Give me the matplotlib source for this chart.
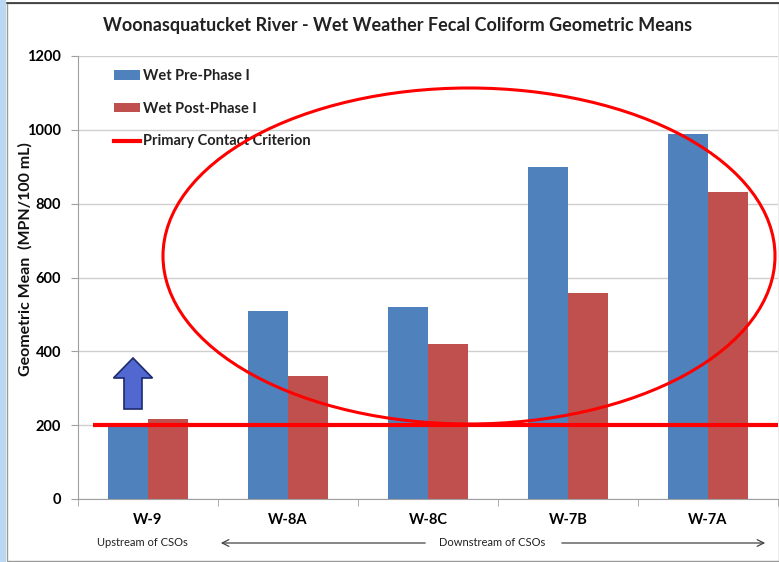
import matplotlib
matplotlib.use("Agg")
import matplotlib.pyplot as plt
import numpy as np
from matplotlib.patches import Rectangle, Ellipse, FancyArrow, Patch, FancyArrowPatch
from matplotlib.lines import Line2D

sites = ["W-9", "W-8A", "W-8C", "W-7B", "W-7A"]
pre_phase = [205, 510, 520, 898, 990]
post_phase = [218, 333, 420, 558, 831]
criterion = 200
yticks = [0, 200, 400, 600, 800, 1000, 1200]

plt.rcParams['font.family'] = ['Lato', 'DejaVu Sans']

W, H = 779, 562
fig = plt.figure(figsize=(W / 100, H / 100), dpi=100)

def fx(px):
    return px / W

def fy(py):
    return 1 - py / H

# frame decorations
fig.patches.append(Rectangle((0, 0), fx(6), 1, transform=fig.transFigure,
                             facecolor="#BBD8F2", edgecolor="none", zorder=-3))
fig.patches.append(Rectangle((fx(7), fy(561)), fx(779) - fx(7), fy(3) - fy(561),
                             transform=fig.transFigure, facecolor="white",
                             edgecolor="#9A9A9A", lw=1.0, zorder=-2))
fig.lines.append(Line2D([fx(7), 1], [fy(2.5), fy(2.5)], transform=fig.transFigure,
                        color="#333333", lw=1.2, zorder=-1))

ax = fig.add_axes([fx(78), fy(499), fx(778) - fx(78), fy(56) - fy(499)])
ax.set_facecolor("none")

x = np.arange(len(sites))
bw = 0.286
ax.bar(x - bw / 2, pre_phase, bw, color="#4F81BD", zorder=2, label="Wet Pre-Phase I")
ax.bar(x + bw / 2, post_phase, bw, color="#C0504D", zorder=2, label="Wet Post-Phase I")
ax.plot([-0.393, 4.5], [criterion, criterion], color="#FF0000", lw=3.0, zorder=4,
        solid_capstyle="butt", clip_on=False)

ax.set_xlim(-0.5, 4.5)
ax.set_ylim(0, 1200)
ax.set_yticks(yticks)
ax.set_yticklabels([str(v) for v in yticks], fontsize=10.5, fontweight="bold")
ax.yaxis.grid(True, color="#CFCFCF", lw=1.0, zorder=0)
ax.set_axisbelow(True)
ax.tick_params(axis="y", length=5, color="#A0A0A0", pad=7)

ax.set_xticks(x)
ax.set_xticklabels(sites, fontsize=10.5, fontweight="bold")
ax.set_xticks(np.arange(-0.5, 5.0, 1.0), minor=True)
ax.tick_params(axis="x", which="major", length=0, pad=10)
ax.tick_params(axis="x", which="minor", length=5, color="#A0A0A0")

for s in ["top", "right"]:
    ax.spines[s].set_visible(False)
for s in ["left", "bottom"]:
    ax.spines[s].set_color("#A0A0A0")

# y label placed like the reference
fig.text(fx(25), fy(259), "Geometric Mean  (MPN/100 mL)", rotation=90, ha="center",
         va="center", fontsize=11.5, fontweight="bold", color="#111111")

# title
fig.text(fx(398), fy(25), "Woonasquatucket River - Wet Weather Fecal Coliform Geometric Means",
         ha="center", va="center", fontsize=13, fontweight="bold", color="#222222")

# legend
handles = [Patch(facecolor="#4F81BD", edgecolor="none"),
           Patch(facecolor="#C0504D", edgecolor="none"),
           Line2D([0], [0], color="#FF0000", lw=3)]
labels = ["Wet Pre-Phase I", "Wet Post-Phase I", "Primary Contact Criterion"]
leg = ax.legend(handles, labels, loc="upper left", bbox_to_anchor=(0.033, 1.0),
                frameon=False, handlelength=1.75, handleheight=0.6, handletextpad=0.2,
                labelspacing=1.28, prop={"weight": "bold", "size": 10.5})
for t in leg.get_texts():
    t.set_color("#222222")

# ellipse annotation
fig.patches.append(Ellipse((fx(469), fy(256)), fx(612), 336 / H, transform=fig.transFigure,
                           facecolor="none", edgecolor="#FF0000", lw=2.2, zorder=5))

# blue up arrow
fig.patches.append(FancyArrow(fx(133), fy(409), 0, fy(358) - fy(409), width=fx(18),
                              head_width=fx(39), head_length=(378 - 358) / H,
                              length_includes_head=True, transform=fig.transFigure,
                              facecolor="#5068CF", edgecolor="#1C2A6E", lw=1.2, zorder=5))

# upstream / downstream annotations
fig.text(fx(142), fy(542), "Upstream of CSOs", ha="center", va="center", fontsize=8,
         color="#222222")
fig.text(fx(492), fy(542), "Downstream of CSOs", ha="center", va="center", fontsize=8,
         color="#222222")
fig.add_artist(FancyArrowPatch((fx(428), fy(543)), (fx(218), fy(543)),
                               transform=fig.transFigure, arrowstyle="->",
                               mutation_scale=12, color="#444444", lw=0.9))
fig.add_artist(FancyArrowPatch((fx(559), fy(543)), (fx(768), fy(543)),
                               transform=fig.transFigure, arrowstyle="->",
                               mutation_scale=12, color="#444444", lw=0.9))

fig.savefig("out.png", dpi=100)
